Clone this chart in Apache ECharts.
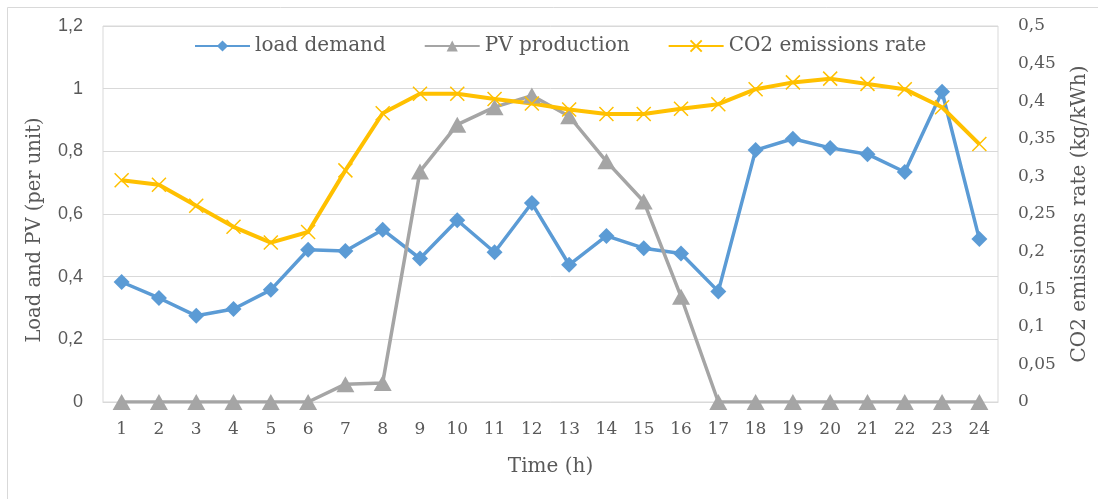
<!DOCTYPE html>
<html>
<head>
<meta charset="utf-8">
<script src="https://cdn.jsdelivr.net/npm/echarts@6/dist/echarts.min.js"></script>
<style>
html,body{margin:0;padding:0;background:#fff;overflow:hidden;}
#chart{width:1098px;height:499px;}
</style>
</head>
<body>
<div id="chart"></div>
<script>
const hours = ['1','2','3','4','5','6','7','8','9','10','11','12','13','14','15','16','17','18','19','20','21','22','23','24'];
const loadDemand = [0.383,0.332,0.275,0.297,0.358,0.486,0.482,0.55,0.458,0.58,0.478,0.635,0.438,0.53,0.491,0.474,0.353,0.804,0.84,0.811,0.791,0.734,0.99,0.52];
const pvProduction = [0,0,0,0,0,0,0.057,0.061,0.736,0.885,0.941,0.978,0.912,0.768,0.64,0.336,0,0,0,0,0,0,0,0];
const co2Rate = [0.295,0.289,0.261,0.233,0.212,0.226,0.308,0.384,0.41,0.41,0.403,0.397,0.389,0.383,0.383,0.39,0.396,0.416,0.425,0.43,0.423,0.416,0.392,0.343];
const seriesNames = ['load demand','PV production','CO2 emissions rate'];

const txt = '#595959';
const serif = '"DejaVu Serif", serif';
const sans = '"Liberation Sans", "Open Sans", sans-serif';
function fmt(v){ return String(+v.toFixed(2)).replace('.', ','); }

const chart = echarts.init(document.getElementById('chart'), null, {renderer:'canvas', width:1098, height:499});
chart.setOption({
  animation:false,
  backgroundColor:'#fff',
  graphic:[
    {type:'rect', shape:{x:7.5,y:7.5,width:1200,height:600}, style:{fill:'none', stroke:'#d9d9d9', lineWidth:1}, silent:true, z:-10}
  ],
  legend:{
    data:seriesNames, left:194, top:36, padding:0,
    itemWidth:55, itemHeight:14, itemGap:38,
    textStyle:{fontFamily:serif, fontSize:20, color:txt}
  },
  grid:{left:103, top:26, width:901, height:376, show:true, borderColor:'#d9d9d9', borderWidth:1, containLabel:false},
  xAxis:{
    type:'category', data:hours, boundaryGap:true,
    axisLine:{lineStyle:{color:'#d9d9d9', width:1}},
    axisTick:{show:false},
    axisLabel:{fontFamily:serif, fontSize:17, color:txt, margin:19, interval:0},
    name:'Time (h)', nameLocation:'middle', nameGap:55,
    nameTextStyle:{fontFamily:serif, fontSize:20, color:txt}
  },
  yAxis:[{
    type:'value', min:0, max:1.2, interval:0.2,
    axisLine:{show:false}, axisTick:{show:false},
    splitLine:{lineStyle:{color:'#d9d9d9', width:1}},
    axisLabel:{fontFamily:sans, fontSize:18, color:txt, margin:20, formatter:fmt},
    name:'Load and PV (per unit)', nameLocation:'middle', nameRotate:90, nameGap:58,
    nameTextStyle:{fontFamily:serif, fontSize:19.5, color:txt, padding:[0,32,0,0]}
  },{
    type:'value', min:0, max:0.5, interval:0.05, position:'right',
    axisLine:{show:false}, axisTick:{show:false}, splitLine:{show:false},
    axisLabel:{fontFamily:serif, fontSize:17, color:txt, margin:20, formatter:fmt},
    name:'CO2 emissions rate (kg/kWh)', nameLocation:'middle', nameRotate:90, nameGap:72,
    nameTextStyle:{fontFamily:serif, fontSize:20, color:txt}
  }],
  series:[{
    name:seriesNames[0], type:'line', data:loadDemand, yAxisIndex:0,
    symbol:'diamond', symbolSize:16, showAllSymbol:true,
    lineStyle:{color:'#5B9BD5', width:3.5}, itemStyle:{color:'#5B9BD5'}
  },{
    name:seriesNames[1], type:'line', data:pvProduction, yAxisIndex:0,
    symbol:'triangle', symbolSize:[18,16], showAllSymbol:true,
    lineStyle:{color:'#A5A5A5', width:3.5}, itemStyle:{color:'#A5A5A5'}
  },{
    name:seriesNames[2], type:'line', data:co2Rate, yAxisIndex:1,
    symbol:'path://M0,0L10,10M10,0L0,10', symbolSize:14, showAllSymbol:true,
    lineStyle:{color:'#FFC000', width:4},
    itemStyle:{color:'rgba(0,0,0,0)', borderColor:'#FFC000', borderWidth:1.5}
  }]
});
</script>
</body>
</html>
